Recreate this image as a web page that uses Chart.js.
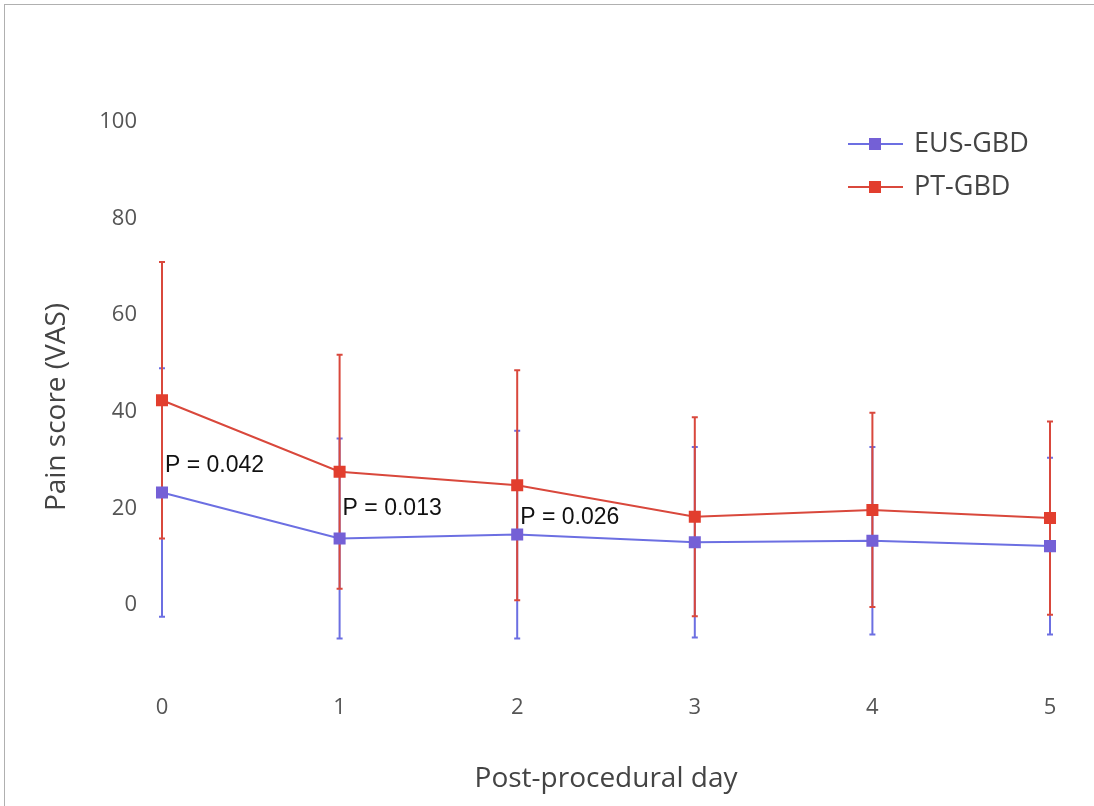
<!DOCTYPE html>
<html>
<head>
<meta charset="utf-8">
<script src="https://cdn.jsdelivr.net/npm/chart.js@4.4.1/dist/chart.umd.min.js"></script>
<style>
  html, body { margin: 0; padding: 0; background: #fff; }
  #wrap { position: relative; width: 1094px; height: 806px; }
  #frame { position: absolute; left: 4px; top: 4px; right: 0; bottom: 0;
           border-left: 1px solid #b0b0b0; border-top: 1px solid #b0b0b0; pointer-events: none; }
</style>
</head>
<body>
<div id="wrap">
  <canvas id="pain-chart" width="1094" height="806"></canvas>
  <div id="frame"></div>
</div>
<script>
// values (mean and SD per day)
const days = ['0', '1', '2', '3', '4', '5'];
const eusMean = [23.3, 13.8, 14.6, 13.0, 13.3, 12.2];
const eusSd = [25.7, 20.7, 21.5, 19.7, 19.4, 18.3];
const ptMean = [42.4, 27.6, 24.8, 18.3, 19.7, 18.0];
const ptSd = [28.6, 24.2, 23.8, 20.6, 20.1, 20.0];
const yTicks = [0, 20, 40, 60, 80, 100];
const pTexts = ['P = 0.042', 'P = 0.013', 'P = 0.026'];
const pTextY = [28.9, 20.0, 18.0]; // in VAS units

const blue = '#6c6fe2';
const blueMark = '#7460d6';
const red = '#d9483c';
const redMark = '#e23e2e';

const tickFont = { family: 'Open Sans', size: 22 };
const titleFont = { family: 'Open Sans', size: 28 };

// vertical SD bars, drawn under lines and markers
const errorBars = {
  id: 'errorBars',
  beforeDatasetsDraw(chart) {
    const { ctx, scales: { x, y } } = chart;
    const sets = [[eusMean, eusSd, blue], [ptMean, ptSd, red]];
    ctx.save();
    ctx.lineWidth = 2;
    sets.forEach(([m, sd, col]) => {
      ctx.strokeStyle = col;
      m.forEach((v, i) => {
        const px = x.getPixelForValue(i);
        const top = y.getPixelForValue(v + sd[i]);
        const bot = y.getPixelForValue(v - sd[i]);
        ctx.beginPath();
        ctx.moveTo(px, top);
        ctx.lineTo(px, bot);
        ctx.moveTo(px - 3, top);
        ctx.lineTo(px + 3, top);
        ctx.moveTo(px - 3, bot);
        ctx.lineTo(px + 3, bot);
        ctx.stroke();
      });
    });
    ctx.restore();
  }
};

// p-value notes and legend
const notes = {
  id: 'notes',
  afterDraw(chart) {
    const { ctx, scales: { x, y } } = chart;
    ctx.save();
    ctx.fillStyle = '#111';
    ctx.font = '23px "Liberation Sans", Arial, sans-serif';
    ctx.textBaseline = 'middle';
    pTexts.forEach((t, i) => {
      ctx.fillText(t, x.getPixelForValue(i) + 3, y.getPixelForValue(pTextY[i]));
    });

    const items = [['EUS-GBD', blue, blueMark], ['PT-GBD', red, redMark]];
    items.forEach(([label, col, mark], k) => {
      const cy = 144 + k * 43;
      ctx.strokeStyle = col;
      ctx.lineWidth = 2;
      ctx.beginPath();
      ctx.moveTo(848, cy);
      ctx.lineTo(903, cy);
      ctx.stroke();
      ctx.fillStyle = mark;
      ctx.fillRect(869, cy - 6, 12, 12);
      ctx.fillStyle = '#444';
      ctx.font = '27px "Open Sans", sans-serif';
      ctx.fillText(label, 914, cy);
    });
    ctx.restore();
  }
};

const ctx = document.getElementById('pain-chart').getContext('2d');
new Chart(ctx, {
  type: 'line',
  data: {
    labels: days,
    datasets: [
      {
        label: 'EUS-GBD',
        data: eusMean,
        borderColor: blue,
        backgroundColor: blueMark,
        borderWidth: 2,
        pointStyle: 'rect',
        pointRadius: 8.5,
        pointBorderWidth: 0,
        tension: 0
      },
      {
        label: 'PT-GBD',
        data: ptMean,
        borderColor: red,
        backgroundColor: redMark,
        borderWidth: 2,
        pointStyle: 'rect',
        pointRadius: 8.5,
        pointBorderWidth: 0,
        tension: 0
      }
    ]
  },
  options: {
    responsive: false,
    animation: false,
    layout: { padding: { top: 122, right: 44, bottom: 0, left: 0 } },
    plugins: {
      legend: { display: false },
      tooltip: { enabled: false }
    },
    scales: {
      x: {
        offset: false,
        grid: { display: false, drawTicks: false },
        border: { display: false },
        ticks: { color: '#555', font: tickFont, padding: 3, maxRotation: 0 },
        title: { display: true, text: 'Post-procedural day', color: '#444', font: titleFont,
                 padding: { top: 10, bottom: 10 } },
        afterFit(s) { s.height = 114; }
      },
      y: {
        min: -18,
        max: 100,
        grid: { display: false, drawTicks: false },
        border: { display: false },
        afterBuildTicks(s) { s.ticks = yTicks.map(v => ({ value: v })); },
        ticks: { color: '#555', font: tickFont, padding: 25 },
        title: { display: true, text: 'Pain score (VAS)', color: '#444', font: titleFont,
                 padding: { top: 40, bottom: 40 } },
        afterFit(s) { s.width = 162; }
      }
    }
  },
  plugins: [errorBars, notes]
});
</script>
</body>
</html>
